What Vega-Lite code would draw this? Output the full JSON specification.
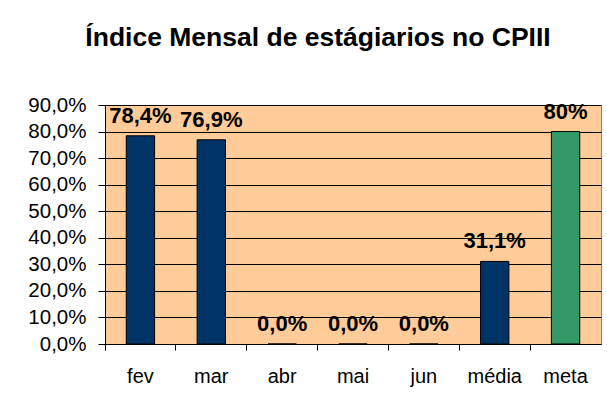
{
  "$schema": "https://vega.github.io/schema/vega-lite/v6.json",
  "width": 496,
  "height": 239,
  "autosize": {"type": "none"},
  "padding": {"left": 105, "top": 105, "right": 6, "bottom": 61},
  "background": "#ffffff",
  "title": {
    "text": "Índice Mensal de estágiarios no CPIII",
    "font": "Liberation Sans",
    "fontSize": 26.5,
    "fontWeight": "bold",
    "color": "#000000",
    "anchor": "middle",
    "dx": -35,
    "baseline": "alphabetic",
    "offset": 23
  },
  "data": {
    "values": [
      {"cat": "fev", "v": 0.784, "label": "78,4%", "tipo": "mes"},
      {"cat": "mar", "v": 0.769, "label": "76,9%", "tipo": "mes"},
      {"cat": "abr", "v": 0.0, "label": "0,0%", "tipo": "mes"},
      {"cat": "mai", "v": 0.0, "label": "0,0%", "tipo": "mes"},
      {"cat": "jun", "v": 0.0, "label": "0,0%", "tipo": "mes"},
      {"cat": "média", "v": 0.311, "label": "31,1%", "tipo": "mes"},
      {"cat": "meta", "v": 0.8, "label": "80%", "tipo": "meta"}
    ]
  },
  "encoding": {
    "x": {
      "field": "cat",
      "type": "nominal",
      "sort": null,
      "scale": {"paddingInner": 0, "paddingOuter": 0},
      "axis": {
        "title": null,
        "labelAngle": 0,
        "bandPosition": 0,
        "tickExtra": true,
        "labelFont": "Liberation Sans",
        "labelFontSize": 20,
        "labelColor": "#000000",
        "labelPadding": 16,
        "tickSize": 6,
        "tickColor": "#000000",
        "domainColor": "#000000",
        "grid": false
      }
    },
    "y": {
      "field": "v",
      "type": "quantitative",
      "scale": {"domain": [0, 0.9], "nice": false},
      "axis": {
        "title": null,
        "values": [0, 0.1, 0.2, 0.3, 0.4, 0.5, 0.6, 0.7, 0.8, 0.9],
        "format": ".1%",
        "labelFont": "Liberation Sans",
        "labelFontSize": 20.5,
        "labelColor": "#000000",
        "labelPadding": 12,
        "tickSize": 7,
        "tickColor": "#000000",
        "domainColor": "#000000",
        "grid": true,
        "gridColor": "#000000",
        "gridOpacity": 1,
        "gridWidth": 1
      }
    }
  },
  "layer": [
    {
      "mark": {"type": "bar", "width": {"band": 0.4}, "stroke": "#000000", "strokeWidth": 1},
      "encoding": {
        "color": {
          "field": "tipo",
          "type": "nominal",
          "scale": {"domain": ["mes", "meta"], "range": ["#003366", "#339966"]},
          "legend": null
        }
      }
    },
    {
      "mark": {
        "type": "text",
        "font": "Liberation Sans",
        "fontSize": 22,
        "fontWeight": "bold",
        "color": "#000000",
        "baseline": "alphabetic",
        "dy": -13
      },
      "encoding": {"text": {"field": "label", "type": "nominal"}}
    }
  ],
  "config": {
    "locale": {"number": {"decimal": ",", "thousands": ".", "grouping": [3], "currency": ["R$", ""]}},
    "view": {"fill": "#FFCC99", "stroke": "#808080", "strokeWidth": 1}
  }
}
